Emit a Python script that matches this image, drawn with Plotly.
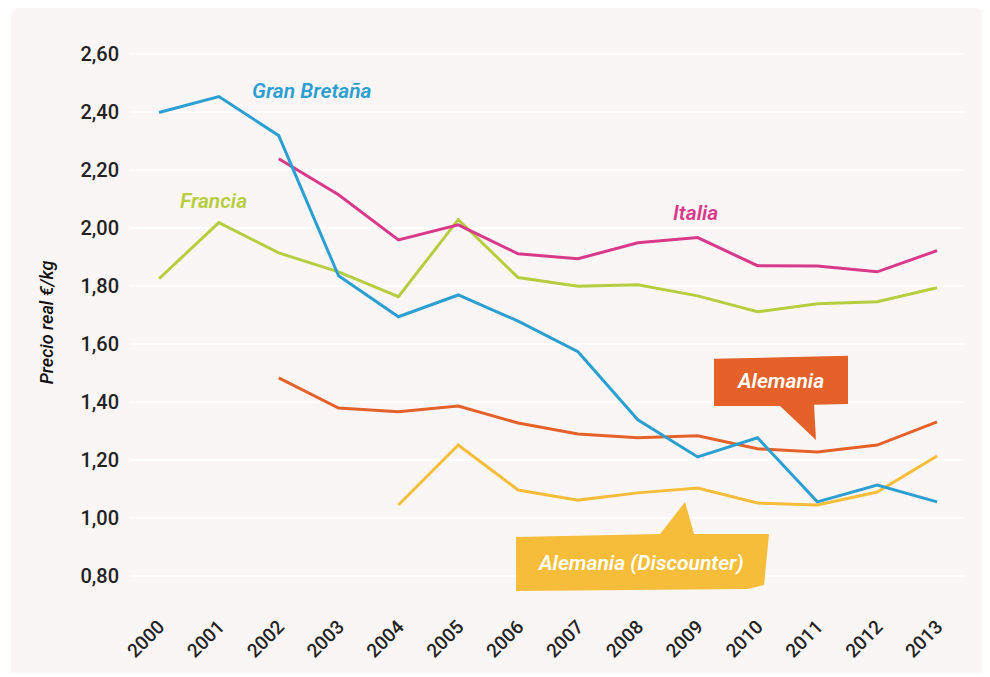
import plotly.graph_objects as go

years = list(range(2000, 2014))

gran_bretana = [2.40, 2.455, 2.32, 1.836, 1.695, 1.77, 1.68, 1.574, 1.339, 1.211, 1.277, 1.056, 1.114, 1.056]
francia = [1.826, 2.02, 1.915, 1.85, 1.764, 2.03, 1.83, 1.80, 1.805, 1.767, 1.712, 1.74, 1.747, 1.795]
italia = [None, None, 2.24, 2.116, 1.96, 2.012, 1.912, 1.895, 1.95, 1.968, 1.871, 1.87, 1.85, 1.923]
alemania = [None, None, 1.484, 1.38, 1.367, 1.387, 1.328, 1.29, 1.277, 1.284, 1.239, 1.228, 1.252, 1.332]
alemania_disc = [None, None, None, None, 1.045, 1.252, 1.097, 1.062, 1.087, 1.104, 1.052, 1.045, 1.09, 1.214]

y_ticks = [0.8, 1.0, 1.2, 1.4, 1.6, 1.8, 2.0, 2.2, 2.4, 2.6]

C_BLUE = "#2b9fd1"
C_GREEN = "#b6cd3f"
C_PINK = "#d9398a"
C_ORANGE = "#e4622a"
C_YELLOW = "#f5bd3a"
BG = "#fbf6f6"
FONT = "Roboto"

fig = go.Figure()
for name, vals, col in [
    ("Francia", francia, C_GREEN),
    ("Italia", italia, C_PINK),
    ("Alemania", alemania, C_ORANGE),
    ("Alemania (Discounter)", alemania_disc, C_YELLOW),
    ("Gran Bretaña", gran_bretana, C_BLUE),
]:
    fig.add_trace(go.Scatter(x=years, y=vals, mode="lines", name=name,
                             line=dict(color=col, width=3), connectgaps=False))

def path(pts):
    return "M " + " L ".join(f"{x},{y}" for x, y in pts) + " Z"

alemania_box = [(2009.273, 1.5496), (2011.512, 1.5599), (2011.512, 1.3941),
                (2010.944, 1.3907), (2010.977, 1.2698), (2010.376, 1.3872),
                (2009.273, 1.3872)]
disc_box = [(2005.965, 0.9347), (2008.371, 0.9451), (2008.789, 1.0556),
            (2008.939, 0.9451), (2010.192, 0.9451), (2010.109, 0.7689),
            (2009.841, 0.7551), (2005.965, 0.7482)]

shapes = [
    dict(type="path", xref="paper", yref="paper",
         path="M -0.143,1.04 Q -0.143,1.057 -0.13,1.057 L 1.01,1.057 Q 1.03,1.057 1.03,1.04 L 1.03,-0.12 L -0.143,-0.12 Z",
         fillcolor=BG, line=dict(width=0), layer="below"),
    dict(type="path", xref="x", yref="y", path=path(alemania_box),
         fillcolor=C_ORANGE, line=dict(width=0), layer="above"),
    dict(type="path", xref="x", yref="y", path=path(disc_box),
         fillcolor=C_YELLOW, line=dict(width=0), layer="above"),
]

lab_font = dict(family=FONT, size=21, style="italic", weight=600)
annotations = [
    dict(x=2002.556, y=2.4753, text="Gran Bretaña", showarrow=False,
         font=dict(lab_font, color=C_BLUE)),
    dict(x=2000.902, y=2.0953, text="Francia", showarrow=False,
         font=dict(lab_font, color=C_GREEN)),
    dict(x=2008.956, y=2.0539, text="Italia", showarrow=False,
         font=dict(lab_font, color=C_PINK)),
    dict(x=2010.376, y=1.4736, text="Alemania", showarrow=False,
         font=dict(lab_font, color="white")),
    dict(x=2008.037, y=0.8449, text="Alemania (Discounter)", showarrow=False,
         font=dict(lab_font, color="white")),
]

fig.update_layout(
    width=990, height=677,
    margin=dict(l=122, r=34, t=32, b=80),
    paper_bgcolor="white", plot_bgcolor=BG,
    separators=",.",
    showlegend=False,
    shapes=shapes, annotations=annotations,
    font=dict(family=FONT, color="#222222"),
)
fig.update_xaxes(range=[1999.515, 2013.45], tickmode="array", tickvals=years,
                 ticktext=[str(y) for y in years], tickangle=-45,
                 showgrid=False, zeroline=False, showline=False,
                 tickfont=dict(family=FONT, size=19, weight=500, color="#222222"),
                 ticklabelstandoff=6)
fig.update_yaxes(range=[0.70, 2.65], tickmode="array", tickvals=y_ticks,
                 tickformat=".2f", showgrid=True, gridcolor="white", gridwidth=1.5,
                 zeroline=False, showline=False,
                 tickfont=dict(family=FONT, size=20, weight=500, color="#222222"),
                 ticklabelstandoff=10,
                 title=dict(text="Precio real €/kg", standoff=22,
                            font=dict(family=FONT, size=18, style="italic", weight=500,
                                      color="#111111")))

fig.write_html("out.html")
